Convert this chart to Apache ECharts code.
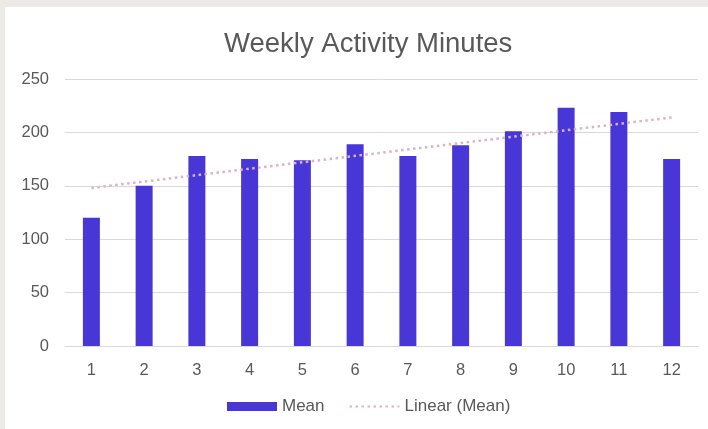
<!DOCTYPE html>
<html>
<head>
<meta charset="utf-8">
<script src="https://cdn.jsdelivr.net/npm/echarts@6/dist/echarts.min.js"></script>
<style>
html,body{margin:0;padding:0;background:#fff;}
#c{width:708px;height:429px;}
</style>
</head>
<body>
<div id="c"></div>
<script>
const weeks = ['1','2','3','4','5','6','7','8','9','10','11','12'];
const meanValues = [120, 150, 178, 175, 174, 189, 178, 188, 201, 223, 219, 175];
const trendStart = 148;
const trendEnd = 214;
const yTicks = [0, 50, 100, 150, 200, 250];

const chart = echarts.init(document.getElementById('c'), null, {renderer: 'canvas'});
const font = 'Liberation Sans, Helvetica, Arial, sans-serif';
chart.setOption({
  animation: false,
  backgroundColor: '#ffffff',
  graphic: [
    {type: 'rect', left: 0, top: 0, shape: {width: 708, height: 7}, style: {fill: '#ebeae6'}, z: 100},
    {type: 'rect', left: 0, top: 0, shape: {width: 5, height: 429}, style: {fill: '#ebeae6'}, z: 100}
  ],
  title: {
    text: 'Weekly Activity Minutes',
    left: 219,
    top: 25,
    textStyle: {fontFamily: font, fontSize: 27.5, fontWeight: 'normal', color: '#595959'}
  },
  legend: {
    bottom: 9,
    left: 222,
    itemGap: 24,
    itemWidth: 50,
    itemHeight: 9,
    textStyle: {fontFamily: font, fontSize: 17, color: '#595959'},
    data: [
      {name: 'Mean', icon: 'rect', itemStyle: {borderWidth: 0}},
      {name: 'Linear (Mean)', itemStyle: {opacity: 0}}
    ]
  },
  grid: {left: 65, right: 10, top: 79, bottom: 83, containLabel: false},
  xAxis: {
    type: 'category',
    data: weeks,
    axisLine: {lineStyle: {color: '#d9d9d9', width: 1}},
    axisTick: {show: false},
    axisLabel: {fontFamily: font, fontSize: 16.5, color: '#595959', margin: 16}
  },
  yAxis: {
    type: 'value',
    min: yTicks[0],
    max: yTicks[yTicks.length - 1],
    interval: yTicks[1] - yTicks[0],
    axisLine: {show: false},
    axisTick: {show: false},
    splitLine: {lineStyle: {color: '#d9d9d9', width: 1}},
    axisLabel: {fontFamily: font, fontSize: 16.5, color: '#595959', margin: 16}
  },
  series: [
    {
      name: 'Mean',
      type: 'bar',
      data: meanValues,
      barWidth: 17,
      itemStyle: {color: '#4837d6'}
    },
    {
      name: 'Linear (Mean)',
      type: 'line',
      data: [[weeks[0], trendStart], [weeks[weeks.length - 1], trendEnd]],
      symbol: 'none',
      itemStyle: {color: '#d9b3c6'},
      lineStyle: {color: '#d9b3c6', width: 2.5, type: [2.5, 3.5]},
      z: 3
    }
  ]
});
</script>
</body>
</html>
